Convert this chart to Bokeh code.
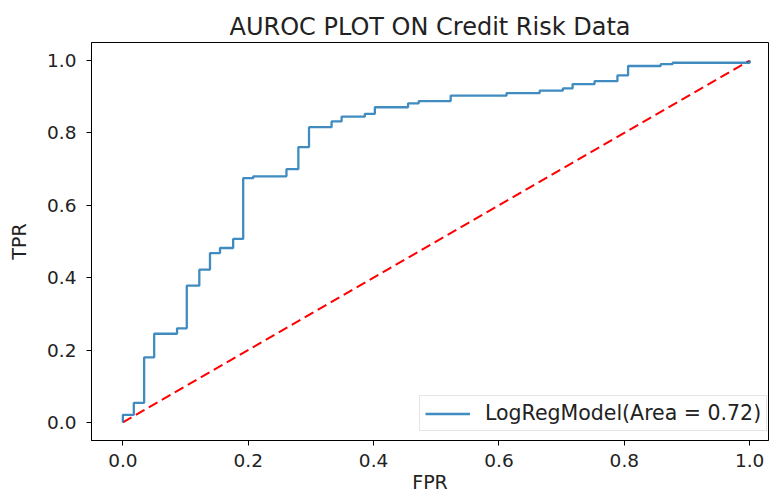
from bokeh.plotting import figure
from bokeh.models import Range1d, FixedTicker, PrintfTickFormatter, Legend, LegendItem
from bokeh.embed import file_html
from bokeh.resources import INLINE

# ROC curve corner points
fpr = [0.0, 0.0, 0.0175, 0.0175, 0.034, 0.034, 0.050, 0.050, 0.0865, 0.0865,
       0.102, 0.102, 0.122, 0.122, 0.139, 0.139, 0.155, 0.155, 0.176, 0.176,
       0.192, 0.192, 0.208, 0.208, 0.261, 0.261, 0.280, 0.280, 0.297, 0.297,
       0.333, 0.333, 0.349, 0.349, 0.386, 0.386, 0.402, 0.402, 0.455, 0.455,
       0.472, 0.472, 0.523, 0.523, 0.612, 0.612, 0.665, 0.665, 0.702, 0.702,
       0.7175, 0.7175, 0.7525, 0.7525, 0.789, 0.789, 0.806, 0.806, 0.858, 0.858,
       0.877, 0.877, 1.0, 1.0]
tpr = [0.0, 0.021, 0.021, 0.054, 0.054, 0.180, 0.180, 0.245, 0.245, 0.260,
       0.260, 0.378, 0.378, 0.422, 0.422, 0.468, 0.468, 0.482, 0.482, 0.507,
       0.507, 0.675, 0.675, 0.680, 0.680, 0.700, 0.700, 0.761, 0.761, 0.816,
       0.816, 0.832, 0.832, 0.845, 0.845, 0.853, 0.853, 0.871, 0.871, 0.882,
       0.882, 0.888, 0.888, 0.903, 0.903, 0.910, 0.910, 0.917, 0.917, 0.923,
       0.923, 0.935, 0.935, 0.943, 0.943, 0.959, 0.959, 0.985, 0.985, 0.990,
       0.990, 0.994, 0.994, 1.0]
chance_x = [0.0, 1.0]
chance_y = [0.0, 1.0]
ticks = [0.0, 0.2, 0.4, 0.6, 0.8, 1.0]
title_text = "AUROC PLOT ON Credit Risk Data"
legend_label = "LogRegModel(Area = 0.72)"

FONT = "DejaVu Sans"

p = figure(width=769, height=495,
           x_range=Range1d(-0.05, 1.03), y_range=Range1d(-0.05, 1.05),
           output_backend="svg", toolbar_location=None,
           min_border_left=91, min_border_right=1,
           min_border_top=42, min_border_bottom=54,
           title=title_text)

p.background_fill_color = "white"
p.border_fill_color = "white"
p.outline_line_color = "black"
p.outline_line_width = 1
p.grid.visible = False

p.title.align = "center"
p.title.text_font = FONT
p.title.text_font_size = "24px"
p.title.text_font_style = "normal"
p.title.text_color = "#222222"
p.title.standoff = 4

for ax in (p.xaxis[0], p.yaxis[0]):
    ax.ticker = FixedTicker(ticks=ticks)
    ax.formatter = PrintfTickFormatter(format="%.1f")
    ax.axis_line_color = "black"
    ax.axis_line_width = 1
    ax.major_tick_line_color = "black"
    ax.major_tick_out = 5
    ax.major_tick_in = 0
    ax.minor_tick_line_color = None
    ax.major_label_text_font = FONT
    ax.major_label_text_font_size = "18.5px"
    ax.major_label_text_color = "#222222"
    ax.axis_label_text_font = FONT
    ax.axis_label_text_font_size = "19px"
    ax.axis_label_text_font_style = "normal"
    ax.axis_label_text_color = "#222222"

p.xaxis.axis_label = "FPR"
p.yaxis.axis_label = "TPR"
p.xaxis.major_label_standoff = 8
p.yaxis.major_label_standoff = 10
p.xaxis.axis_label_standoff = 1
p.yaxis.axis_label_standoff = 14

p.line(chance_x, chance_y, line_color="#ff0000", line_width=2, line_dash="10 5")
roc = p.line(fpr, tpr, line_color="#1f77b4", line_alpha=0.85, line_width=2.3)

legend = Legend(items=[LegendItem(label=legend_label, renderers=[roc])],
                location=(328, 9))
legend.margin = 0
legend.padding = 5
legend.label_standoff = 15
legend.glyph_width = 45
legend.glyph_height = 21
legend.label_height = 21
legend.label_text_font = FONT
legend.label_text_font_size = "20.5px"
legend.label_text_color = "#222222"
legend.border_line_color = "#cccccc"
legend.border_line_width = 1
legend.background_fill_alpha = 0.8
p.add_layout(legend)

open("out.html", "w").write(file_html(p, INLINE))
